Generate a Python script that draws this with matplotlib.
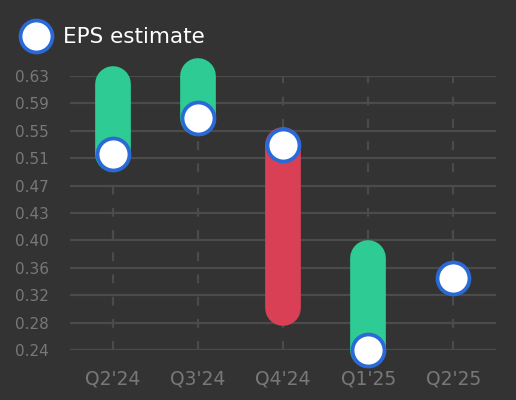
import matplotlib
matplotlib.use("Agg")
import matplotlib.pyplot as plt
from matplotlib.lines import Line2D

quarters = ["Q2'24", "Q3'24", "Q4'24", "Q1'25", "Q2'25"]
eps_estimate = [0.519, 0.570, 0.532, 0.240, 0.343]
eps_actual = [0.619, 0.630, 0.300, 0.371, None]

y_ticks = [0.24 + 0.039 * i for i in range(11)]
y_labels = ["0.24", "0.28", "0.32", "0.36", "0.40", "0.43",
            "0.47", "0.51", "0.55", "0.59", "0.63"]

BG = "#333333"
GRID = "#4b4b4b"
TXT = "#787878"
GREEN = "#2ecc94"
RED = "#d94055"
BLUE = "#2a6ad6"


def main():
    fig = plt.figure(figsize=(5.16, 4.0), dpi=100, facecolor=BG)
    ax = fig.add_axes([70 / 516, 50 / 400, 426 / 516, 274 / 400])
    ax.set_facecolor(BG)

    x = list(range(len(quarters)))
    ax.set_xlim(-0.5, len(quarters) - 0.5)
    ax.set_ylim(0.24, 0.63)

    # grid
    for t in y_ticks:
        ax.axhline(t, color=GRID, linewidth=1.6, zorder=0)
    for xi in x:
        ax.axvline(xi, color=GRID, linewidth=1.6, dashes=(4, 6), zorder=0)

    # estimate -> actual bars
    for xi, est, act in zip(x, eps_estimate, eps_actual):
        if act is None:
            continue
        c = GREEN if act >= est else RED
        ax.plot([xi, xi], [est, act], color=c, linewidth=25.7,
                solid_capstyle="round", zorder=2, clip_on=False)

    ax.plot(x, eps_estimate, linestyle="none", marker="o", markersize=23,
            markerfacecolor="white", markeredgecolor=BLUE,
            markeredgewidth=2.7, zorder=3, clip_on=False)

    ax.set_xticks(x)
    ax.set_xticklabels(quarters, color=TXT, fontsize=13.5)
    ax.set_yticks(y_ticks)
    ax.set_yticklabels(y_labels, color=TXT, fontsize=11)
    ax.tick_params(length=0, pad=14)
    ax.tick_params(axis="y", pad=15)
    for s in ax.spines.values():
        s.set_visible(False)

    # legend
    fig.lines.append(Line2D([36 / 516], [1 - 36 / 400], transform=fig.transFigure,
                            linestyle="none", marker="o", markersize=23,
                            markerfacecolor="white", markeredgecolor=BLUE,
                            markeredgewidth=2.7))
    fig.text(63 / 516, 1 - 37 / 400, "EPS estimate", color="white",
             fontsize=15.5, va="center", ha="left")

    fig.savefig("out.png", dpi=100, facecolor=BG)


if __name__ == "__main__":
    main()
